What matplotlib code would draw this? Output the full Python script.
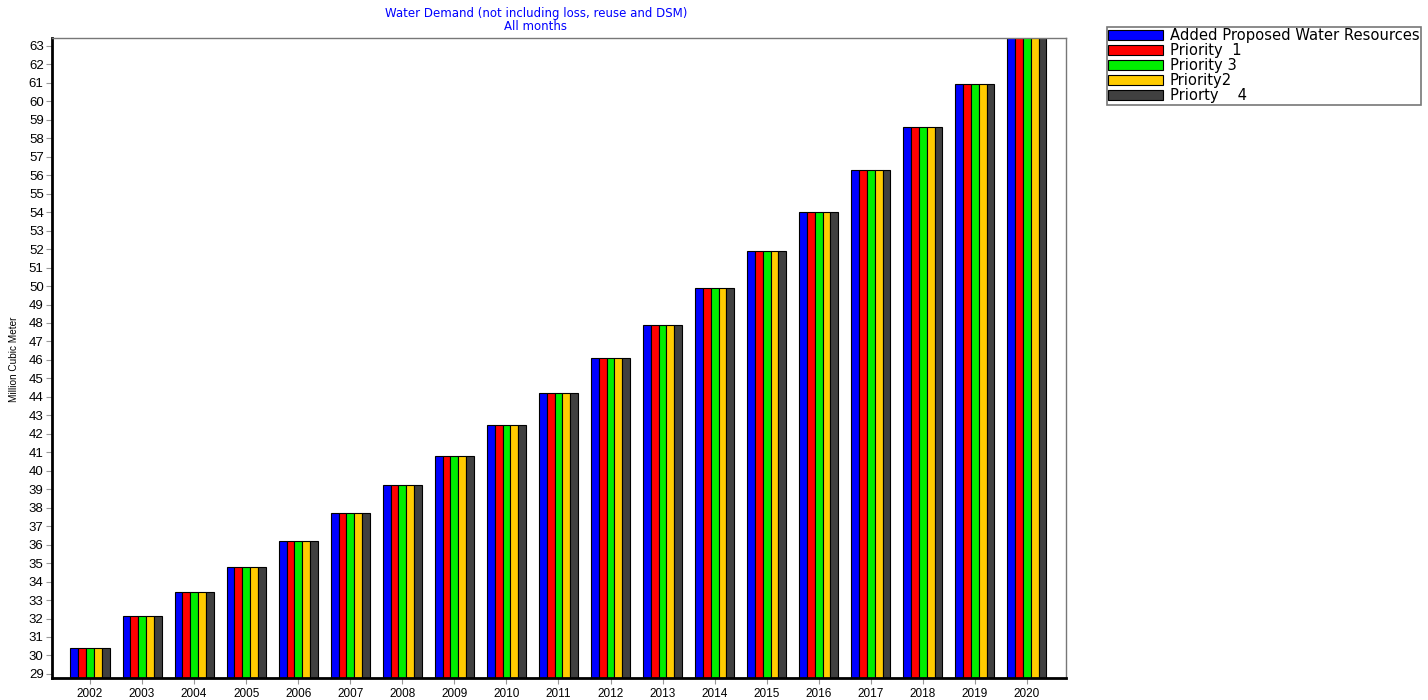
import numpy as np
import matplotlib
matplotlib.use("Agg")
import matplotlib.pyplot as plt

plt.rcParams['font.family'] = ['Liberation Sans', 'DejaVu Sans']

years = [str(y) for y in range(2002, 2021)]
demand = [30.4, 32.15, 33.45, 34.8, 36.2, 37.7, 39.25, 40.8, 42.5, 44.2,
          46.1, 47.9, 49.9, 51.9, 54.0, 56.3, 58.6, 60.95, 63.6]
series = ['Added Proposed Water Resources', 'Priority  1', 'Priority 3',
          'Priority2', 'Priorty    4']
colors = ['#0000ff', '#ff0000', '#00ee00', '#ffcc00', '#404040']

fig = plt.figure(figsize=(14.28, 7), dpi=100)
ax = fig.add_axes([52/1428, 1-678/700, (1066-52)/1428, (678-38)/700])

x = np.arange(len(years))
w = 0.15
for i, (name, c) in enumerate(zip(series, colors)):
    ax.bar(x + (i-2)*w, demand, w, color=c, edgecolor='black', linewidth=0.8,
           label=name, zorder=2)

ax.set_xlim(-0.73, 18.75)
ax.set_ylim(28.78, 63.43)
ax.set_xticks(x)
ax.set_xticklabels(years, fontsize=8.5)
ax.set_yticks(range(29, 64))
ax.tick_params(axis='y', labelsize=9.5, length=4, color='#999999', pad=2)
ax.tick_params(axis='x', length=4, color='#999999', pad=3)
for s in ['top', 'right']:
    ax.spines[s].set_color('#777777')
    ax.spines[s].set_linewidth(1)
for s in ['left', 'bottom']:
    ax.spines[s].set_color('black')
    ax.spines[s].set_linewidth(2)

fig.text(536/1428, 1-19.5/700, 'Water Demand (not including loss, reuse and DSM)\nAll months',
         color='#0000ff', fontsize=8.5, ha='center', va='center', linespacing=1.0,
         family='DejaVu Sans')
fig.text(14/1428, 1-359/700, 'Million Cubic Meter', rotation=90, fontsize=7.2,
         ha='center', va='center')

leg = fig.legend(loc='upper left', bbox_to_anchor=(1107/1428, 1-27/700),
                 prop={'family': 'DejaVu Sans', 'size': 10.6},
                 handlelength=3.7, handleheight=0.65,
                 labelspacing=0.0, borderpad=0.1, handletextpad=0.45,
                 borderaxespad=0, fancybox=False, frameon=True)
leg.get_frame().set_edgecolor('#555555')
leg.get_frame().set_linewidth(1.2)

fig.savefig('out.png', dpi=100)
